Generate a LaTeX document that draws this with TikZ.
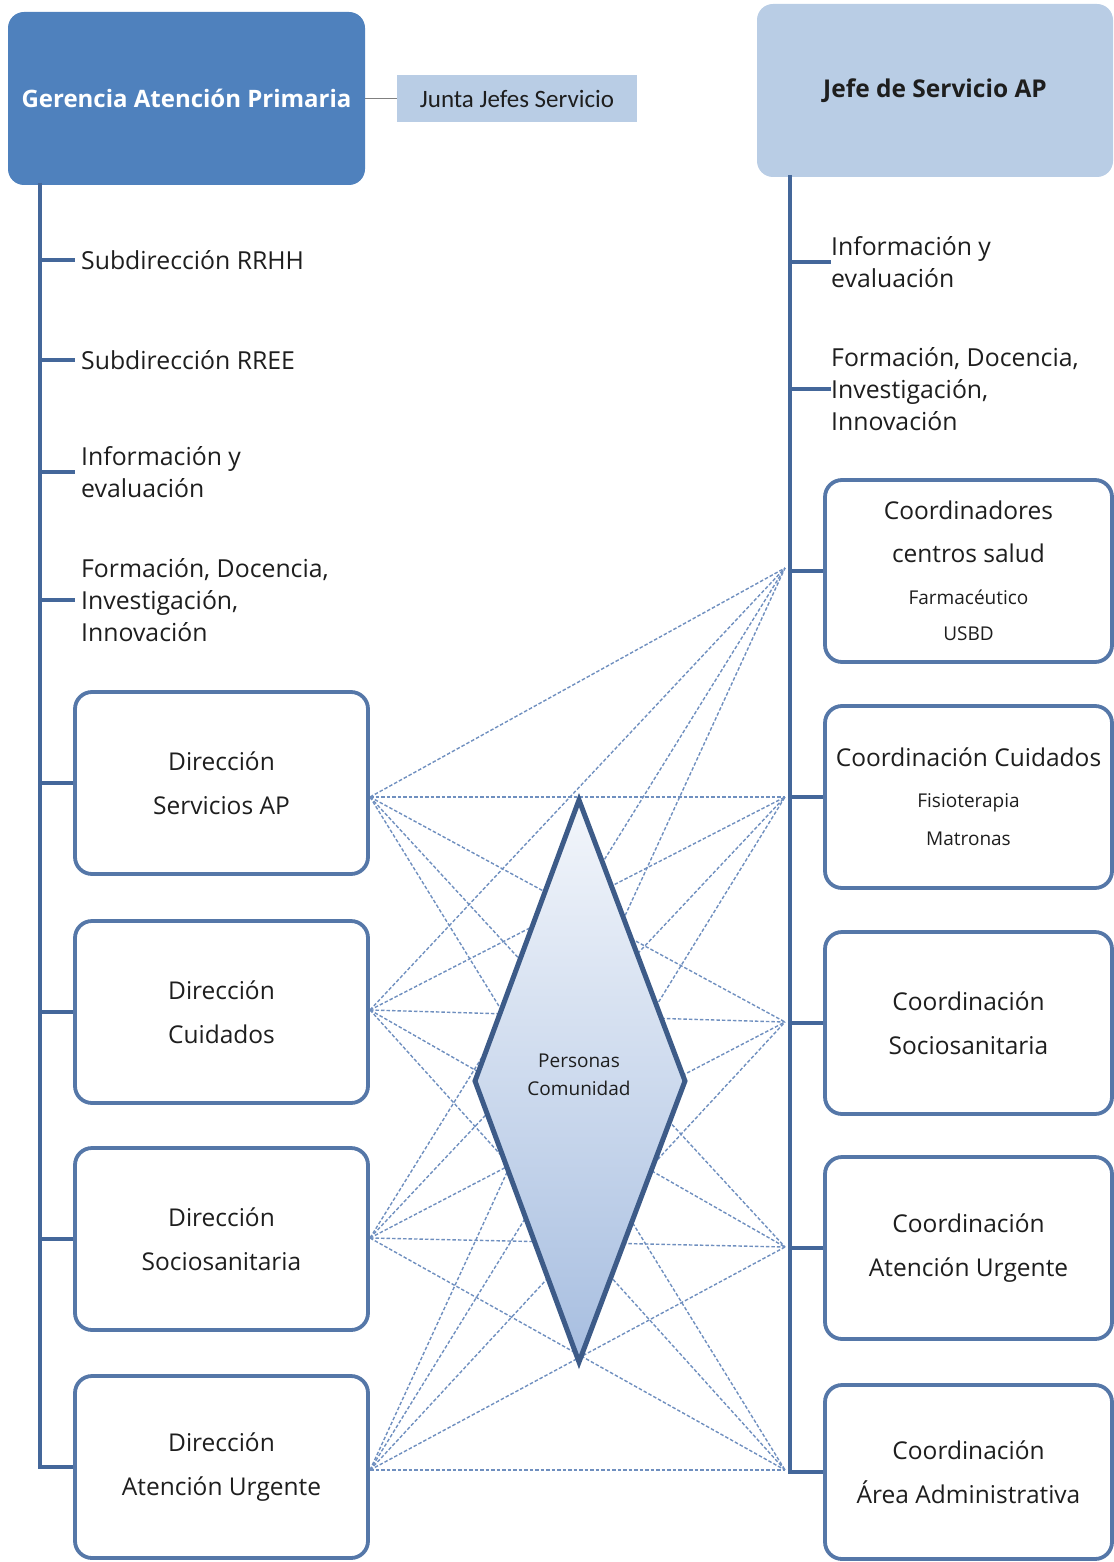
\documentclass[tikz,border=0pt]{standalone}
\usepackage{fontspec}
\setmainfont{Open Sans}
\newfontfamily\juntafont{Carlito}
\definecolor{gerfill}{HTML}{4F81BD}
\definecolor{lightfill}{HTML}{B9CDE5}
\definecolor{trunkc}{HTML}{44679A}
\definecolor{boxline}{HTML}{5577A8}
\definecolor{dashc}{HTML}{6F8FBF}
\definecolor{diaedge}{HTML}{3D5B88}
\definecolor{diatop}{HTML}{F3F6FB}
\definecolor{diabot}{HTML}{A7BEE0}
\definecolor{txt}{HTML}{1E1E1E}
\tikzset{
  trunkline/.style={draw=trunkc, line width=4.5pt},
  lbox/.style={draw=boxline, line width=3.8pt, rounded corners=17pt, fill=white,
    minimum width=293pt, minimum height=182pt, inner sep=0pt, align=center,
    text=txt, font=\fontsize{24.5}{44}\selectfont},
  rbox/.style={lbox, minimum width=287pt},
  item/.style={anchor=west, inner sep=0pt, inner xsep=6pt, align=left, text=txt,
    font=\fontsize{24.8}{32}\selectfont},
  dashlink/.style={draw=dashc, line width=1.4pt, dash pattern=on 3.5pt off 2pt}
}
\newcommand{\smalltxt}[1]{{\fontsize{19}{22}\selectfont #1}}
\begin{document}
\begin{tikzpicture}[x=1pt,y=-1pt]
\useasboundingbox (0,0) rectangle (1113,1562);

% top boxes
\node[fill=gerfill, rounded corners=16pt, minimum width=357pt, minimum height=173pt,
  inner sep=0pt, text=white, font=\bfseries\fontsize{24}{30}\selectfont] (ger) at (186.5,98.5) {Gerencia Atención Primaria};
\node[fill=lightfill, minimum width=240pt, minimum height=47pt, inner sep=0pt,
  text=txt, font=\juntafont\fontsize{25}{30}\selectfont] (jun) at (517,98.5) {Junta Jefes Servicio};
\draw[draw=gray, line width=1pt] (ger.east) -- (jun.west);
\node[fill=lightfill, rounded corners=16pt, minimum width=356pt, minimum height=173pt,
  inner sep=0pt, text=txt, font=\bfseries\fontsize{24.5}{30}\selectfont] (jefe) at (935,90.5) {Jefe de Servicio AP};

% dashed links
\coordinate (a1) at (370,797);
\coordinate (a2) at (370,1010);
\coordinate (a3) at (370,1238);
\coordinate (a4) at (370,1470);
\coordinate (b1) at (785,568);
\coordinate (b2) at (785,797);
\coordinate (b3) at (785,1022);
\coordinate (b4) at (785,1247);
\coordinate (b5) at (785,1470);
\foreach \i in {1,...,4}{\foreach \j in {1,...,5}{\draw[dashlink] (a\i) -- (b\j);}}

% diamond
\shadedraw[top color=diatop, bottom color=diabot, draw=diaedge, line width=5pt]
  (579,800) -- (685,1081) -- (579,1362) -- (475,1081) -- cycle;
\node[align=center, text=txt, font=\fontsize{19}{28}\selectfont] (per) at (579,1075) {Personas\\Comunidad};

% left column
\coordinate (LT) at (40,183);
\coordinate (LB) at (40,1467);
\node[item] (l1) at (75,260) {Subdirección RRHH};
\node[item] (l2) at (75,360) {Subdirección RREE};
\node[item] (l3) at (75,472) {Información y\\evaluación};
\node[item] (l4) at (75,600) {Formación, Docencia,\\Investigación,\\Innovación};
\node[lbox] (d1) at (221.5,783) {Dirección\\Servicios AP};
\node[lbox] (d2) at (221.5,1012) {Dirección\\Cuidados};
\node[lbox] (d3) at (221.5,1239) {Dirección\\Sociosanitaria};
\node[lbox] (d4) at (221.5,1467) {Dirección\\Atención Urgente};
\draw[trunkline] (LT) -- (LB) -- (d4.west);
\foreach \n in {l1,l2,l3,l4,d1,d2,d3}{\draw[trunkline] (LT |- \n.west) -- (\n.west);}

% right column
\coordinate (RT) at (790,175);
\coordinate (RB) at (790,1472);
\node[item] (r1) at (825,262) {Información y\\evaluación};
\node[item] (r2) at (825,389) {Formación, Docencia,\\Investigación,\\Innovación};
\node[rbox] (c1) at (968.5,571) {Coordinadores\\[-1pt]centros salud\\[-2pt]\smalltxt{Farmacéutico}\\[-8pt]\smalltxt{USBD}};
\node[rbox] (c2) at (968.5,797) {Coordinación Cuidados\\[-3pt]\smalltxt{Fisioterapia}\\[-6pt]\smalltxt{Matronas}};
\node[rbox] (c3) at (968.5,1023) {Coordinación\\Sociosanitaria};
\node[rbox] (c4) at (968.5,1248) {Coordinación\\Atención Urgente};
\node[rbox, minimum height=174pt] (c5) at (968.5,1472) {Coordinación\\Área Administrativa};
\draw[trunkline] (RT) -- (RB) -- (c5.west);
\foreach \n in {r1,r2}{\draw[trunkline] (RT |- \n.west) -- ([xshift=6pt]\n.west);}
\foreach \n in {c1,c2,c3,c4}{\draw[trunkline] (RT |- \n.west) -- (\n.west);}
\end{tikzpicture}
\end{document}
